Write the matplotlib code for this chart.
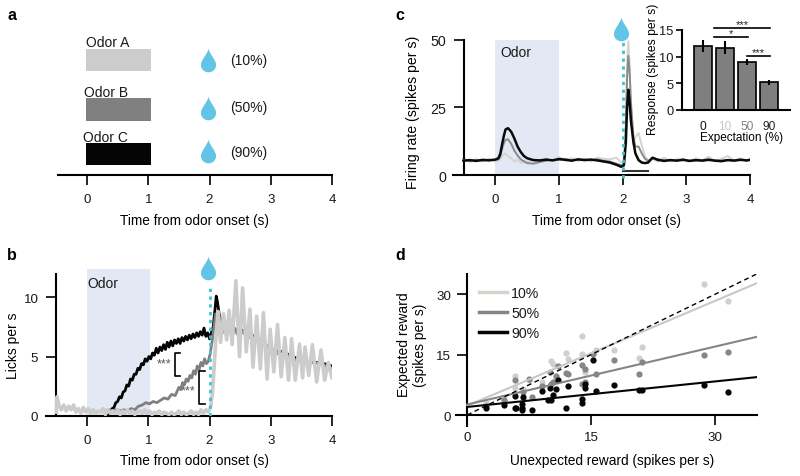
import matplotlib
matplotlib.use('Agg')
import numpy as np
from matplotlib import pyplot as plt
from matplotlib.path import Path

# panel a
odor_names = ['Odor A', 'Odor B', 'Odor C']
odor_probs = ['(10%)', '(50%)', '(90%)']

# panel b, licks per s
licks90_t = [0.35, 0.38, 0.41, 0.44, 0.47, 0.50, 0.53, 0.56, 0.59, 0.62, 0.65, 0.68, 0.71, 0.74, 0.77, 0.80,
             0.83, 0.86, 0.89, 0.92, 0.95, 0.98, 1.01, 1.04, 1.07, 1.10, 1.13, 1.16, 1.19, 1.22, 1.25, 1.28,
             1.31, 1.34, 1.37, 1.40, 1.43, 1.46, 1.49, 1.52, 1.55, 1.58, 1.61, 1.64, 1.67, 1.70, 1.73, 1.76,
             1.79, 1.82, 1.85, 1.88, 1.91, 1.94, 1.97, 2.00, 2.03, 2.06, 2.09, 2.11, 2.13, 2.16, 2.20, 2.30,
             2.40, 2.50, 2.60, 2.70, 2.80, 3.00, 3.20, 3.40, 3.60, 3.80, 4.00]
licks90 = [0.1, 0.3, 0.6, 0.7, 1.1, 1.2, 1.6, 1.5, 2.0, 2.1, 2.6, 2.5, 3.1, 3.0, 3.5, 3.5,
           4.0, 3.9, 4.4, 4.3, 4.8, 4.6, 5.0, 4.8, 5.3, 5.1, 5.7, 5.3, 5.8, 5.5, 6.0, 5.6,
           6.2, 5.8, 6.3, 5.9, 6.4, 6.1, 6.5, 6.1, 6.6, 6.3, 6.7, 6.4, 6.8, 6.5, 6.9, 6.6,
           7.0, 6.7, 7.1, 6.8, 7.4, 6.7, 7.0, 6.5, 7.0, 7.5, 9.0, 10.1, 9.6, 8.5, 7.8, 7.5,
           7.2, 7.3, 7.0, 6.8, 6.5, 5.6, 5.4, 4.9, 4.5, 4.5, 4.2]
licks50_t = [0.30, 0.36, 0.42, 0.48, 0.54, 0.60, 0.66, 0.72, 0.78, 0.84, 0.90, 0.96, 1.02, 1.08, 1.14, 1.20,
             1.26, 1.32, 1.38, 1.44, 1.50, 1.53, 1.56, 1.59, 1.62, 1.65, 1.68, 1.71, 1.74, 1.77, 1.80, 1.83,
             1.86, 1.89, 1.92, 1.95, 1.98, 2.01, 2.04, 2.07, 2.10, 2.13, 2.17, 2.21, 2.25, 2.29, 2.33, 2.37,
             2.41, 2.45, 2.50, 2.60, 2.80, 3.00, 3.20, 3.50, 3.80, 4.00]
licks50 = [0.4, 0.5, 0.4, 0.5, 0.4, 0.5, 0.4, 0.6, 0.5, 0.8, 0.9, 1.1, 1.0, 1.2, 1.1, 1.3,
           1.5, 1.4, 1.8, 1.7, 2.4, 2.2, 2.8, 2.6, 3.1, 2.9, 3.4, 3.2, 3.8, 3.5, 4.2, 3.9,
           4.5, 4.2, 4.8, 4.4, 4.6, 5.2, 6.2, 7.4, 8.6, 7.6, 8.3, 7.0, 7.8, 6.8, 7.6, 6.8,
           7.4, 6.9, 7.2, 6.8, 6.2, 5.6, 5.0, 4.6, 4.4, 4.0]
licks10_t = [-0.50, -0.49, -0.46, -0.42, -0.38, -0.34, -0.30, -0.26, -0.22, -0.18, -0.14, -0.10, -0.06, -0.02,
             0.02, 0.06, 0.10, 0.14, 0.18, 0.22, 0.26, 0.30, 0.34, 0.38, 0.42, 0.46, 0.50, 0.54, 0.58, 0.62,
             0.66, 0.70, 0.74, 0.78, 0.82, 0.86, 0.90, 0.94, 0.98, 1.02, 1.06, 1.10, 1.14, 1.18, 1.22, 1.26,
             1.30, 1.34, 1.38, 1.42, 1.46, 1.50, 1.54, 1.58, 1.62, 1.66, 1.70, 1.74, 1.78, 1.82, 1.86, 1.90,
             1.94, 1.98, 2.02, 2.05, 2.08, 2.11, 2.14, 2.18, 2.23, 2.28, 2.32, 2.37, 2.43, 2.49, 2.54, 2.60,
             2.66, 2.71, 2.77, 2.83, 2.88, 2.94, 2.99, 3.05, 3.11, 3.17, 3.23, 3.29, 3.34, 3.40, 3.47, 3.52,
             3.56, 3.62, 3.68, 3.75, 3.82, 3.88, 3.94, 4.00]
licks10 = [0.3, 1.6, 0.9, 0.5, 0.9, 0.4, 0.8, 0.5, 0.9, 0.3, 0.6, 0.2, 0.7, 0.3,
           0.6, 0.2, 0.5, 0.2, 0.4, 0.3, 0.6, 0.1, 0.5, 0.2, 0.4, 0.2, 0.5, 0.1, 0.4, 0.2,
           0.5, 0.2, 0.4, 0.1, 0.3, 0.4, 0.2, 0.5, 0.2, 0.4, 0.1, 0.3, 0.2, 0.4, 0.1, 0.3,
           0.2, 0.1, 0.3, 0.1, 0.2, 0.4, 0.1, 0.3, 0.1, 0.2, 0.4, 0.1, 0.3, 0.1, 0.5, 0.2,
           0.5, 0.3, 0.8, 2.0, 4.5, 7.0, 8.8, 6.2, 8.6, 6.4, 8.9, 6.0, 11.4, 5.0, 10.8, 5.4,
           9.0, 4.1, 8.4, 3.95, 8.7, 3.1, 7.3, 3.7, 7.7, 3.3, 6.6, 3.0, 6.5, 3.0, 6.05, 3.2,
           5.8, 3.4, 6.0, 2.85, 5.55, 3.0, 4.5, 3.2]

# panel c, firing rate
rate_t = [-0.50, -0.40, -0.30, -0.20, -0.10, 0.00, 0.05, 0.08, 0.10, 0.13, 0.16, 0.20, 0.25, 0.30, 0.35, 0.40,
          0.45, 0.50, 0.60, 0.70, 0.80, 0.90, 1.00, 1.10, 1.20, 1.30, 1.40, 1.50, 1.60, 1.70, 1.80, 1.90,
          1.98, 2.02, 2.05, 2.07, 2.09, 2.11, 2.13, 2.17, 2.20, 2.25, 2.30, 2.35, 2.40, 2.47, 2.55, 2.65,
          2.75, 2.85, 2.95, 3.05, 3.15, 3.25, 3.35, 3.45, 3.55, 3.65, 3.75, 3.85, 3.95, 4.00]
rate90 = [5.3, 5.5, 5.2, 5.6, 5.4, 5.7, 6.2, 8.0, 10.5, 14.0, 16.8, 17.3, 16.0, 13.5, 10.5, 8.5,
          7.0, 6.2, 5.5, 5.4, 5.7, 5.4, 5.9, 5.6, 5.3, 5.8, 5.5, 5.7, 5.4, 5.0, 4.6, 3.8,
          3.0, 3.6, 12.0, 25.0, 31.5, 27.0, 20.0, 12.0, 8.0, 5.5, 4.6, 4.4, 4.6, 6.4, 5.6, 5.2,
          5.5, 5.3, 5.6, 5.2, 5.5, 5.3, 5.6, 5.3, 5.1, 5.5, 5.3, 5.6, 5.4, 5.6]
rate50 = [5.5, 5.2, 5.6, 5.3, 5.6, 5.5, 5.8, 7.0, 9.0, 11.5, 13.0, 13.2, 11.5, 9.0, 7.2, 5.8,
          5.0, 4.4, 4.2, 4.8, 5.3, 5.6, 5.6, 5.9, 5.4, 5.6, 5.7, 5.5, 5.8, 5.3, 5.0, 4.2,
          3.6, 4.0, 16.0, 36.0, 44.0, 38.0, 27.0, 14.0, 10.5, 10.5, 8.0, 6.0, 5.2, 6.3, 5.8, 5.4,
          5.6, 5.4, 5.7, 5.3, 5.4, 5.5, 5.8, 5.4, 5.3, 5.6, 5.5, 5.7, 5.3, 5.7]
rate10 = [6.2, 4.8, 5.8, 5.0, 6.0, 5.0, 5.4, 6.0, 6.8, 7.6, 8.0, 7.0, 6.2, 5.0, 5.6, 4.4,
          5.2, 4.8, 5.6, 5.0, 6.0, 5.2, 6.6, 5.4, 6.2, 5.2, 6.0, 5.0, 6.4, 6.0, 5.8, 6.4,
          4.6, 5.0, 20.0, 42.0, 49.5, 40.0, 22.0, 12.0, 14.0, 15.5, 11.0, 7.0, 5.4, 6.0, 5.0, 6.4,
          5.0, 5.8, 6.0, 5.0, 6.2, 5.4, 6.8, 5.0, 6.0, 7.0, 5.4, 6.2, 5.2, 6.0]

# panel c inset
expect_labels = ['0', '10', '50', '90']
expect_colors = ['#111111', '#c8c8c8', '#808080', '#222222']
response = [12.0, 11.7, 9.0, 5.2]
response_err = [1.1, 1.2, 0.65, 0.45]

# panel d, (unexpected, expected) per neuron
d10_x = [2.3, 4.5, 5.85, 5.85, 6.8, 7.5, 9.0, 10.2, 10.4, 10.7, 11.9, 12.2, 13.9, 13.9, 14.2, 15.6, 17.7, 20.8, 21.2, 28.6, 31.5]
d10_y = [3.1, 4.0, 9.6, 6.6, 6.4, 8.8, 8.1, 13.5, 12.6, 8.9, 15.5, 13.9, 19.5, 15.2, 10.7, 16.2, 16.2, 14.1, 16.9, 32.4, 28.2]
d50_x = [2.3, 4.5, 5.85, 6.8, 7.5, 7.9, 9.0, 10.0, 10.2, 10.4, 10.7, 11.0, 11.9, 12.2, 13.9, 13.9, 14.2, 14.2, 15.2, 15.6, 17.7, 20.8, 21.2, 28.6, 31.5]
d50_y = [2.3, 3.8, 8.8, 5.6, 9.0, 4.4, 7.1, 10.7, 7.7, 8.3, 9.6, 12.2, 10.4, 10.1, 12.4, 7.7, 11.4, 8.3, 15.1, 10.2, 13.6, 10.1, 13.1, 15.0, 15.7]
d90_x = [2.3, 4.5, 5.8, 5.9, 5.85, 6.6, 6.7, 6.7, 6.8, 7.9, 9.0, 9.8, 10.2, 10.4, 10.0, 10.7, 11.0, 11.9, 12.2, 13.9, 13.9, 14.2, 14.2, 15.2, 15.6, 17.7, 20.8, 21.2, 28.6, 31.5]
d90_y = [1.65, 2.5, 1.8, 1.65, 4.6, 1.15, 1.65, 2.8, 4.5, 1.25, 6.0, 3.7, 3.7, 5.0, 6.6, 6.4, 8.7, 1.65, 7.3, 3.0, 4.0, 7.7, 6.6, 13.7, 5.9, 7.4, 6.1, 6.3, 7.4, 5.8]
fit_x = [0, 35]
fit10 = [2.3, 32.7]
fit50 = [2.6, 19.4]
fit90 = [2.0, 9.4]

plt.rcParams['font.family'] = ['Liberation Sans', 'DejaVu Sans']
plt.rcParams['font.size'] = 10
plt.rcParams['text.color'] = '#1a1a1a'
plt.rcParams['xtick.labelcolor'] = '#1a1a1a'
plt.rcParams['ytick.labelcolor'] = '#1a1a1a'

W, H = 800, 477
BLUE = '#e2e8f4'
CYAN = '#3cc4cf'
DROP = '#62c4e6'
C10, C50, C90 = '#c9c9c7', '#808080', '#050505'

fig = plt.figure(figsize=(8, 4.77), dpi=100)

# teardrop, tip on top
drop = Path([(0, 1), (0.08, 0.55), (0.64, 0.05), (0.64, -0.38), (0.64, -0.78), (0.32, -1), (0, -1),
             (-0.32, -1), (-0.64, -0.78), (-0.64, -0.38), (-0.64, 0.05), (-0.08, 0.55), (0, 1)],
            [Path.MOVETO] + [Path.CURVE4] * 12)


def add_axes(left, top, right, bottom, labelsize=9.6):
    ax = fig.add_axes([left / W, 1 - bottom / H, (right - left) / W, (bottom - top) / H])
    ax.patch.set_alpha(0)
    for s in ['top', 'right']:
        ax.spines[s].set_visible(False)
    for s in ['left', 'bottom']:
        ax.spines[s].set_linewidth(1.5)
    ax.tick_params(length=7.5, width=1.2, pad=5.5, labelsize=labelsize)
    return ax


def fig_label(ax, xlabel=None, xpos=None, ylabel=None, ypos=None, xsize=9.8, ysize=10):
    # label positions in pixels of the figure
    if xlabel:
        ax.set_xlabel(xlabel, va='center', fontsize=xsize)
        ax.xaxis.set_label_coords(xpos[0] / W, 1 - xpos[1] / H, transform=fig.transFigure)
    if ylabel:
        ax.set_ylabel(ylabel, va='center', ha='center', fontsize=ysize)
        ax.yaxis.set_label_coords(ypos[0] / W, 1 - ypos[1] / H, transform=fig.transFigure)


def add_drop(ax, x, y):
    ax.plot([x], [y], marker=drop, ms=17, color=DROP, mew=0, clip_on=False, zorder=6)


for letter, x, y in [('a', 12, 15), ('b', 12, 256), ('c', 400, 15), ('d', 400, 256)]:
    fig.text(x / W, 1 - y / H, letter, fontsize=11.5, fontweight='bold', color='k', ha='center', va='center')

# a
ax = add_axes(57.6, 40, 332, 176)
ax.set_xlim(-0.48, 4)
ax.set_ylim(0, 136)
ax.spines['left'].set_visible(False)
ax.set_yticks([])
ax.set_xticks([0, 1, 2, 3, 4])
bar_bottoms = [103.7, 54, 9.7]
bar_heights = [22.3, 23.3, 22.6]
name_x = [-0.02, -0.045, -0.06]
name_y = [129.3, 79.3, 34.3]
prob_y = [115, 68, 23.3]
drop_y = [115, 67.5, 23.7]
for i, name in enumerate(odor_names):
    ax.barh(bar_bottoms[i], 1.06, height=bar_heights[i], left=-0.02, align='edge',
            color=['#cccccc', C50, C90][i])
    ax.text(name_x[i], name_y[i], name, va='baseline', ha='left')
    ax.text(2.335, prob_y[i], odor_probs[i], va='center', ha='left')
    add_drop(ax, 1.97, drop_y[i])
fig_label(ax, 'Time from odor onset (s)', (195, 220.7))

# b
ax = add_axes(46, 269.9, 332, 416.7)
ax.set_xlim(-0.67, 4)
ax.set_ylim(0, 12.4)
ax.spines['left'].set_position(('data', -0.5))
ax.spines['left'].set_bounds(0, 12)
ax.set_xticks([0, 1, 2, 3, 4])
ax.set_yticks([0, 5, 10])
ax.axvspan(0, 1.03, color=BLUE, lw=0, zorder=0)
ax.text(0, 11.2, 'Odor', va='center', ha='left')
ax.plot(licks90_t, licks90, color=C90, lw=2, zorder=2)
ax.plot(licks50_t, licks50, color=C50, lw=2, zorder=3)
ax.plot(licks10_t, licks10, color='#cccccc', lw=2.6, zorder=4)
ax.plot([2, 2], [0, 11], color=CYAN, lw=2, ls=(0, (1.2, 1.6)), zorder=5)
add_drop(ax, 1.97, 12.47)
ax.plot([1.52, 1.43, 1.43, 1.52], [5.27, 5.27, 3.38, 3.38], color='k', lw=1.2, zorder=5)
ax.plot([1.92, 1.83, 1.83, 1.92], [3.75, 3.75, 0.96, 0.96], color='k', lw=1.2, zorder=5)
ax.text(1.25, 4.4, '***', ha='center', va='center', fontsize=9, color='#555555')
ax.text(1.65, 2.1, '***', ha='center', va='center', fontsize=9, color='#555555')
fig_label(ax, 'Time from odor onset (s)', (195, 460.7), 'Licks per s', (13, 346))

# c
ax = add_axes(453, 40.7, 750, 176)
ax.set_xlim(-0.664, 4)
ax.set_ylim(0, 50)
ax.spines['left'].set_position(('data', -0.49))
ax.set_xticks([0, 1, 2, 3, 4])
ax.set_yticks([0, 25, 50])
ax.tick_params(axis='y', labelsize=10.3)
ax.axvspan(0, 1, color=BLUE, lw=0, zorder=0)
ax.text(0.085, 45.4, 'Odor', va='center', ha='left')
ax.plot(rate_t, rate10, color='#d4d4d0', lw=1.4, zorder=2)
ax.plot(rate_t, rate50, color='#8a8a8a', lw=1.4, zorder=3)
ax.plot(rate_t, rate90, color='#0a0a0a', lw=1.8, zorder=4)
ax.plot([2, 2], [-1, 49], color=CYAN, lw=2, ls=(0, (1.2, 1.6)), zorder=5, clip_on=False)
ax.plot([2.0, 2.4], [1.4, 1.4], color='#333333', lw=1.5)
add_drop(ax, 1.97, 54)
fig_label(ax, 'Time from odor onset (s)', (606, 220.7), 'Firing rate (spikes per s)', (412.7, 112), ysize=10.2)

# c inset
ins = add_axes(682, 31, 790, 111, labelsize=9.3)
ins.set_xlim(-0.955, 3.95)
ins.set_ylim(0, 15)
ins.bar(range(4), response, width=0.8, color='#7f7f7f', edgecolor='k', linewidth=1.2,
        yerr=response_err, ecolor='k', error_kw={'lw': 1.5, 'capsize': 0})
ins.set_xticks(range(4))
ins.set_xticklabels(expect_labels)
for lab, c in zip(ins.get_xticklabels(), expect_colors):
    lab.set_color(c)
ins.set_yticks([0, 5, 10, 15])
ins.tick_params(axis='y', length=4, width=1.2, pad=2)
ins.tick_params(axis='x', length=0, pad=7, labelsize=8.6)
for x0, x1, y in [(0.5, 3.05, 15.4), (0.5, 2.05, 13.6), (2.0, 3.05, 10.2)]:
    ins.plot([x0, x1], [y, y], color='k', lw=1.2, clip_on=False)
    ins.text((x0 + x1) / 2, y - 0.2, '***' if y != 13.6 else '*', ha='center', va='bottom', fontsize=8, color='#222222')
fig_label(ins, 'Expectation (%)', (741.7, 138), 'Response (spikes per s)', (653, 69.5), xsize=8.5, ysize=8.7)

# d
ax = add_axes(455.7, 275, 756.7, 427.3)
ax.set_xlim(-1.37, 35)
ax.set_ylim(-2.8, 35)
ax.spines['left'].set_position(('data', 0))
ax.spines['bottom'].set_position(('data', 0))
ax.set_xticks([0, 15, 30])
ax.set_yticks([0, 15, 30])
ax.tick_params(pad=4)
ax.plot(d10_x, d10_y, 'o', color='#cfcfcc', ms=4.5, mew=0, zorder=2)
ax.plot(d50_x, d50_y, 'o', color='#868686', ms=4.5, mew=0, zorder=3)
ax.plot(d90_x, d90_y, 'o', color=C90, ms=4.5, mew=0, zorder=4)
ax.plot(fit_x, fit10, color='#c8c8c8', lw=1.5, zorder=5, label='10%')
ax.plot(fit_x, fit50, color='#858585', lw=1.5, zorder=5, label='50%')
ax.plot(fit_x, fit90, color=C90, lw=1.5, zorder=5, label='90%')
ax.plot([0, 35], [0, 35], color='k', lw=1, ls=(0, (3.5, 2.5)), zorder=5)
leg = ax.legend(loc='upper left', bbox_to_anchor=(0.077, 0.92), frameon=False, handlelength=1.97, fontsize=10.2,
                handletextpad=0.3, labelspacing=0.42, borderpad=0, borderaxespad=0)
for h, c in zip(leg.get_lines(), ['#d4d4cc', '#858585', C90]):
    h.set_color(c)
    h.set_linewidth(2.5)
fig_label(ax, 'Unexpected reward (spikes per s)', (611.7, 461), 'Expected reward\n(spikes per s)', (411.7, 345))

fig.savefig('out.png', dpi=100)
